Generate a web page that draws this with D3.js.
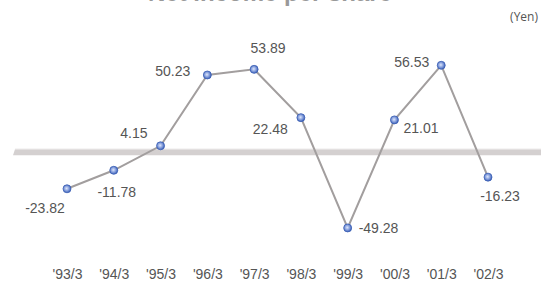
<!DOCTYPE html>
<html>
<head>
<meta charset="utf-8">
<script src="https://cdn.jsdelivr.net/npm/d3@7"></script>
<style>
  body { margin: 0; background: #fff; }
  svg { display: block; }
</style>
</head>
<body>
<div id="chart"></div>
<script>
// fiscal years and net income per share (yen)
const categories = ["'93/3", "'94/3", "'95/3", "'96/3", "'97/3", "'98/3", "'99/3", "'00/3", "'01/3", "'02/3"];
const values = [-23.82, -11.78, 4.15, 50.23, 53.89, 22.48, -49.28, 21.01, 56.53, -16.23];
const valueLabels = ["-23.82", "-11.78", "4.15", "50.23", "53.89", "22.48", "-49.28", "21.01", "56.53", "-16.23"];

// where each value label sits relative to its point
const labelPlace = [
  {dx: -22, dy: 24, anchor: "middle"},
  {dx: 3, dy: 27, anchor: "middle"},
  {dx: -13, dy: -8, anchor: "end"},
  {dx: -17, dy: 1, anchor: "end"},
  {dx: 14, dy: -16, anchor: "middle"},
  {dx: -13, dy: 16, anchor: "end"},
  {dx: 11, dy: 5, anchor: "start"},
  {dx: 9, dy: 13, anchor: "start"},
  {dx: -12, dy: 2, anchor: "end"},
  {dx: 12, dy: 24, anchor: "middle"}
];

const width = 541, height = 285;

const svg = d3.select("#chart").append("svg")
  .attr("width", width)
  .attr("height", height);

const x = d3.scalePoint()
  .domain(categories)
  .range([67, 488]);

const y = d3.scaleLinear()
  .domain([-60, 70])
  .range([244.4, 44.6]);

const defs = svg.append("defs");
const grad = defs.append("radialGradient")
  .attr("id", "dot")
  .attr("cx", "45%").attr("cy", "45%").attr("r", "60%");
grad.append("stop").attr("offset", "0%").attr("stop-color", "#dfe7fa");
grad.append("stop").attr("offset", "45%").attr("stop-color", "#8ea6e0");
grad.append("stop").attr("offset", "100%").attr("stop-color", "#2f55b0");

// title (mostly cut off at the top, as in the original)
svg.append("text")
  .attr("x", 270)
  .attr("y", 0.8)
  .attr("text-anchor", "middle")
  .style("font-family", "Liberation Sans, Arial, sans-serif")
  .style("font-size", "24px")
  .style("font-weight", "bold")
  .style("fill", "#999")
  .text("Net income per share");

svg.append("text")
  .attr("x", 538)
  .attr("y", 21)
  .attr("text-anchor", "end")
  .style("font-family", "Open Sans, sans-serif")
  .style("font-size", "12px")
  .style("fill", "#555")
  .text("(Yen)");

// zero baseline band
svg.append("path")
  .attr("d", `M15,${y(0) - 3}H${width}V${y(0) + 3}H13Z`)
  .attr("fill", "#d4d0d0");
svg.append("line")
  .attr("x1", 15).attr("x2", width)
  .attr("y1", y(0) - 3).attr("y2", y(0) - 3)
  .attr("stroke", "#e4e1e1")
  .attr("stroke-width", 1);

const pts = categories.map((c, i) => ({c, v: values[i], i}));

svg.append("path")
  .datum(pts)
  .attr("fill", "none")
  .attr("stroke", "#a29e9e")
  .attr("stroke-width", 2)
  .attr("d", d3.line().x(d => x(d.c)).y(d => y(d.v)));

svg.append("g")
  .selectAll("circle")
  .data(pts)
  .enter().append("circle")
    .attr("cx", d => x(d.c))
    .attr("cy", d => y(d.v))
    .attr("r", 4)
    .attr("fill", "url(#dot)")
    .attr("stroke", "#3b5fb5")
    .attr("stroke-width", 0.8);

svg.append("g")
  .selectAll("text")
  .data(pts)
  .enter().append("text")
    .attr("x", d => x(d.c) + labelPlace[d.i].dx)
    .attr("y", d => y(d.v) + labelPlace[d.i].dy)
    .attr("text-anchor", d => labelPlace[d.i].anchor)
    .style("font-family", "Liberation Sans, Arial, sans-serif")
    .style("font-size", "14px")
    .style("fill", "#555")
    .text(d => valueLabels[d.i]);

// category axis, no line or ticks
const xAxis = g => g
  .attr("transform", `translate(0,266)`)
  .call(d3.axisBottom(x).tickSize(0).tickPadding(0))
  .call(g => g.select(".domain").remove())
  .call(g => g.selectAll("text")
    .attr("dy", "0.9em")
    .style("font-family", "Liberation Sans, Arial, sans-serif")
    .style("font-size", "14px")
    .style("fill", "#555"));

svg.append("g").call(xAxis);
</script>
</body>
</html>
